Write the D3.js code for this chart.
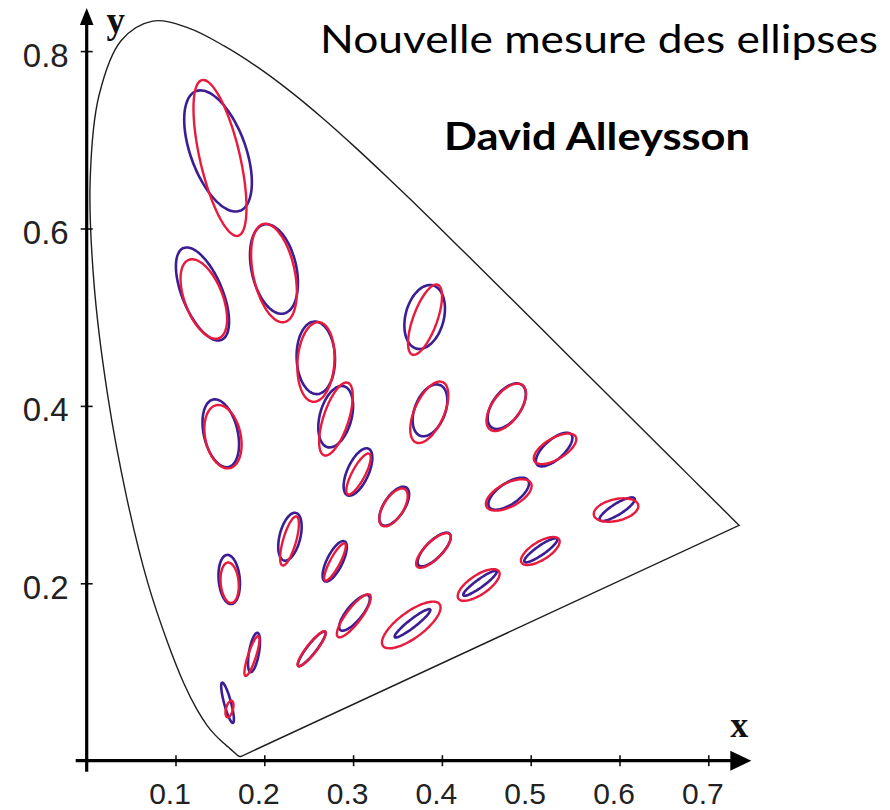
<!DOCTYPE html>
<html><head><meta charset="utf-8">
<script src="https://cdn.jsdelivr.net/npm/d3@7"></script>
<style>body{margin:0;background:#fff}</style>
</head><body>
<svg id="c" width="890" height="810"></svg>
<script>
// CIE 1931 spectral locus (380–700 nm)
const locusX = [0.1741,0.1740,0.1738,0.1736,0.1733,0.1730,0.1726,0.1721,0.1714,0.1703,0.1689,0.1669,0.1644,0.1611,0.1566,0.1510,0.1440,0.1355,0.1241,0.1096,0.0913,0.0687,0.0454,0.0235,0.0082,0.0039,0.0139,0.0389,0.0743,0.1142,0.1547,0.1929,0.2296,0.2658,0.3016,0.3373,0.3731,0.4087,0.4441,0.4788,0.5125,0.5448,0.5752,0.6029,0.6270,0.6482,0.6658,0.6801,0.6915,0.7006,0.7079,0.7140,0.7190,0.7230,0.7260,0.7283,0.7300,0.7311,0.7320,0.7334,0.7344,0.7347];
const locusY = [0.0050,0.0050,0.0049,0.0049,0.0048,0.0048,0.0048,0.0048,0.0051,0.0058,0.0069,0.0086,0.0109,0.0138,0.0177,0.0227,0.0297,0.0399,0.0578,0.0868,0.1327,0.2007,0.2950,0.4127,0.5384,0.6548,0.7502,0.8120,0.8338,0.8262,0.8059,0.7816,0.7543,0.7243,0.6923,0.6589,0.6245,0.5896,0.5547,0.5202,0.4866,0.4544,0.4242,0.3965,0.3725,0.3514,0.3340,0.3197,0.3083,0.2993,0.2920,0.2859,0.2809,0.2770,0.2740,0.2717,0.2700,0.2689,0.2680,0.2666,0.2656,0.2653];

// Ellipses (centre x, centre y, semi-axes a & b in xy units, angle in degrees)
const blueX = [0.1586,0.1884,0.2534,0.1479,0.1304,0.2109,0.2580,0.1510,0.2804,0.3806,0.1605,0.2289,0.3055,0.3866,0.4730,0.5264,0.4752,0.5114,0.5974,0.3463,0.3913,0.4429,0.2793,0.3016,0.3669];
const blueY = [0.0653,0.1220,0.1262,0.6874,0.5262,0.5543,0.4542,0.3691,0.3878,0.5002,0.2043,0.2525,0.3255,0.3950,0.3997,0.3508,0.3010,0.2372,0.2835,0.2869,0.2381,0.2000,0.2248,0.1667,0.1549];
const blueA = [0.0235,0.0225,0.0245,0.0718,0.0560,0.0514,0.0409,0.0390,0.0355,0.0368,0.0278,0.0277,0.0288,0.0307,0.0294,0.0257,0.0266,0.0225,0.0231,0.0251,0.0249,0.0231,0.0251,0.0251,0.0253];
const blueB = [0.0039,0.0056,0.0052,0.0310,0.0226,0.0252,0.0216,0.0191,0.0179,0.0216,0.0119,0.0117,0.0120,0.0172,0.0160,0.0111,0.0119,0.0051,0.0062,0.0116,0.0095,0.0045,0.0088,0.0086,0.0045];
const blueAngle = [105,80,52,110,112.5,102.5,92,103,75,75.5,95,76,65.6,68.7,54.6,41.7,34.8,35,32,57,45.7,36,63.7,50.6,38];

const redX = [0.1608,0.1861,0.2534,0.1501,0.1319,0.2109,0.2582,0.1535,0.2807,0.3810,0.1610,0.2284,0.3061,0.3858,0.4725,0.5274,0.4753,0.5108,0.5961,0.3455,0.3905,0.4414,0.2796,0.3008,0.3655];
const redY = [0.0583,0.1180,0.1262,0.6795,0.5205,0.5498,0.4495,0.3653,0.3852,0.4972,0.2006,0.2477,0.3232,0.3928,0.3984,0.3516,0.2996,0.2364,0.2826,0.2855,0.2370,0.1981,0.2240,0.1634,0.1530];
const redA = [0.0096,0.0236,0.0248,0.0901,0.0473,0.0566,0.0450,0.0363,0.0430,0.0419,0.0229,0.0287,0.0259,0.0372,0.0310,0.0270,0.0283,0.0249,0.0256,0.0242,0.0259,0.0275,0.0236,0.0297,0.0396];
const redB = [0.0039,0.0045,0.0056,0.0225,0.0214,0.0234,0.0208,0.0200,0.0142,0.0135,0.0101,0.0073,0.0073,0.0166,0.0158,0.0119,0.0132,0.0102,0.0122,0.0113,0.0096,0.0109,0.0056,0.0084,0.0146];
const redAngle = [75,72,52,103,111,102,86,102,72,70,95,74,62,66,54,31,28,32,13,58,45,34,62,53,36.5];

const xTicks = [0.1,0.2,0.3,0.4,0.5,0.6,0.7];
const yTicks = [0.2,0.4,0.6,0.8];
const titleText = "Nouvelle mesure des ellipses";
const authorText = "David Alleysson";

const svg = d3.select("#c");
const x = d3.scaleLinear().domain([0, 0.7]).range([86.7, 86.7 + 0.7 * 888]);
const y = d3.scaleLinear().domain([0, 0.8]).range([760.7, 760.7 - 0.8 * 887]);

// spectral locus, smooth, closed by the straight purple line
const locus = locusX.map((v, i) => [v, locusY[i]]);
svg.append("path")
  .attr("d", d3.line().x(d => x(d[0])).y(d => y(d[1])).curve(d3.curveCatmullRom.alpha(0.5))(locus) + "Z")
  .attr("fill", "none").attr("stroke", "#1e1e1e").attr("stroke-width", 1.4).attr("stroke-linejoin", "miter");

// axes
const gx = svg.append("g").attr("transform", `translate(0,${y(0)})`)
  .call(d3.axisBottom(x).tickValues(xTicks).tickSize(6).tickFormat(d3.format(".1f")));
gx.select(".domain").remove();
gx.selectAll(".tick line").attr("y1", -5.5).attr("y2", 5.5).attr("stroke", "#111").attr("stroke-width", 1.6);
gx.selectAll(".tick text").attr("y", 43).attr("dy", null).attr("dx", -6)
  .attr("font-family", "'Liberation Sans', Arial, sans-serif").attr("font-size", 30).attr("fill", "#222");

const gy = svg.append("g").attr("transform", `translate(${x(0)},0)`)
  .call(d3.axisLeft(y).tickValues(yTicks).tickSize(6).tickFormat(d3.format(".1f")));
gy.select(".domain").remove();
gy.selectAll(".tick line").attr("x1", -6).attr("x2", 6).attr("stroke", "#111").attr("stroke-width", 1.6);
gy.selectAll(".tick text").attr("x", -18).attr("dy", 15)
  .attr("font-family", "'Liberation Sans', Arial, sans-serif").attr("font-size", 33).attr("fill", "#222");

// axis lines with arrows
const ax = svg.append("g").attr("stroke", "#000").attr("stroke-width", 3.2);
ax.append("line").attr("x1", x(0) - 11).attr("x2", x(0.7) + 24).attr("y1", y(0)).attr("y2", y(0));
ax.append("line").attr("x1", x(0)).attr("x2", x(0)).attr("y1", y(0) + 11).attr("y2", y(0.8) - 26);
svg.append("path").attr("fill", "#000")
  .attr("d", `M${x(0.7) + 43},${y(0)} L${x(0.7) + 22},${y(0) - 10} L${x(0.7) + 22},${y(0) + 10} Z`);
svg.append("path").attr("fill", "#000")
  .attr("d", `M${x(0)},${y(0.8) - 43} L${x(0) - 6.8},${y(0.8) - 26} L${x(0) + 6.8},${y(0.8) - 26} Z`);

svg.append("text").text("x").attr("x", x(0.7) + 31).attr("y", y(0) - 24)
  .attr("text-anchor", "middle").attr("font-family", "'Liberation Serif', 'Times New Roman', serif")
  .attr("font-weight", "bold").attr("font-size", 36).attr("fill", "#111");
svg.append("text").text("y").attr("x", x(0) + 29).attr("y", y(0.8) - 18)
  .attr("text-anchor", "middle").attr("font-family", "'Liberation Serif', 'Times New Roman', serif")
  .attr("font-weight", "bold").attr("font-size", 37).attr("fill", "#111");

// ellipses
function ellipsePath(cx, cy, a, b, deg) {
  const th = deg * Math.PI / 180, pts = [];
  for (let k = 0; k < 90; k++) {
    const t = k / 90 * 2 * Math.PI;
    const dx = a * Math.cos(t) * Math.cos(th) - b * Math.sin(t) * Math.sin(th);
    const dy = a * Math.cos(t) * Math.sin(th) + b * Math.sin(t) * Math.cos(th);
    pts.push([x(cx + dx), y(cy + dy)]);
  }
  return d3.line().curve(d3.curveCardinalClosed)(pts);
}
const blue = blueX.map((v, i) => ({cx: v, cy: blueY[i], a: blueA[i], b: blueB[i], ang: blueAngle[i]}));
const red = redX.map((v, i) => ({cx: v, cy: redY[i], a: redA[i], b: redB[i], ang: redAngle[i]}));
svg.append("g").selectAll("path").data(blue).join("path")
  .attr("d", d => ellipsePath(d.cx, d.cy, d.a, d.b, d.ang))
  .attr("fill", "none").attr("stroke", "#3b1e94").attr("stroke-width", 2.6);
svg.append("g").selectAll("path").data(red).join("path")
  .attr("d", d => ellipsePath(d.cx, d.cy, d.a, d.b, d.ang))
  .attr("fill", "none").attr("stroke", "#e81b3d").attr("stroke-width", 2.4);

// titles
svg.append("text").text(titleText).attr("x", 320).attr("y", 53)
  .attr("font-family", "Lato, 'Open Sans', sans-serif").attr("font-size", 38).attr("fill", "#000")
  .attr("textLength", 558).attr("lengthAdjust", "spacingAndGlyphs");
svg.append("text").text(authorText).attr("x", 444).attr("y", 150)
  .attr("font-family", "Lato, 'Open Sans', sans-serif").attr("font-weight", "bold").attr("font-size", 38).attr("fill", "#000")
  .attr("textLength", 306).attr("lengthAdjust", "spacingAndGlyphs");
</script>
</body></html>
